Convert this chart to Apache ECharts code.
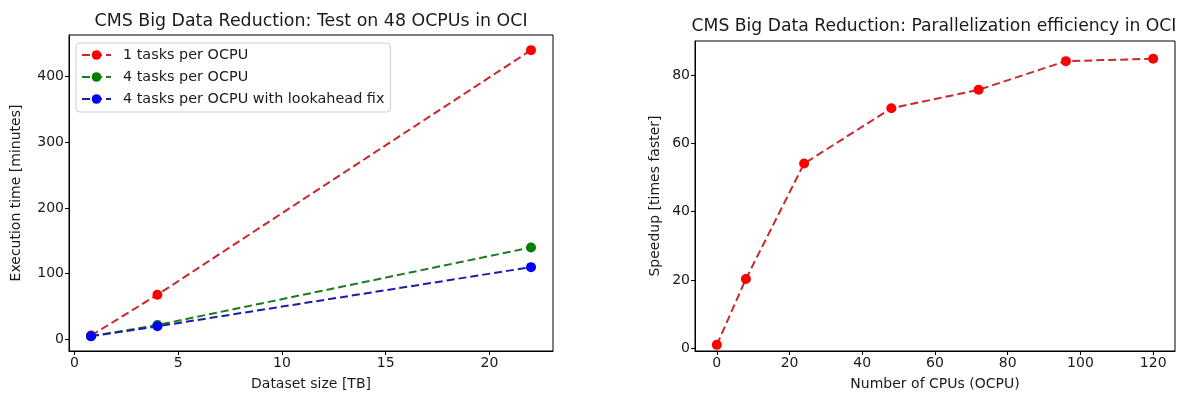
<!DOCTYPE html>
<html>
<head>
<meta charset="utf-8">
<script src="https://cdn.jsdelivr.net/npm/echarts@6/dist/echarts.min.js"></script>
<style>
html,body{margin:0;padding:0;background:#fff;}
#c{width:1182px;height:396px;}
</style>
</head>
<body>
<div id="c"></div>
<script>
// ---- data ----
const sizeTB = [0.8, 4, 22];
const oneTaskPerOCPU = [6, 68, 440];
const fourTasksPerOCPU = [5, 22, 140];
const fourTasksLookahead = [5, 20, 110];
const seriesNames = ['1 tasks per OCPU', '4 tasks per OCPU', '4 tasks per OCPU with lookahead fix'];

const cpus = [0, 8, 24, 48, 72, 96, 120];
const speedup = [1, 20.3, 54.1, 70.3, 75.7, 84.1, 84.8];

const leftXTicks = [0, 5, 10, 15, 20];
const leftYTicks = [0, 100, 200, 300, 400];
const rightXTicks = [0, 20, 40, 60, 80, 100, 120];
const rightYTicks = [0, 20, 40, 60, 80];

const titleLeft = 'CMS Big Data Reduction: Test on 48 OCPUs in OCI';
const titleRight = 'CMS Big Data Reduction: Parallelization efficiency in OCI';

// ---- chart ----
const FONT = 'DejaVu Sans';
const TXT = '#1a1a1a';
const pairs = (xs, ys) => xs.map((x, i) => [x, ys[i]]);

function valueAxis(gridIndex, min, max, ticks, name, nameGap) {
  return {
    type: 'value', gridIndex, min, max,
    name, nameLocation: 'middle', nameGap,
    nameTextStyle: { fontFamily: FONT, fontSize: 14, color: TXT },
    axisLine: { show: true, onZero: false, lineStyle: { color: '#000', width: 1 } },
    axisTick: { show: true, inside: false, length: 4, lineStyle: { color: '#000', width: 1 }, customValues: ticks },
    axisLabel: { show: true, margin: 5, fontFamily: FONT, fontSize: 14, color: TXT, customValues: ticks },
    splitLine: { show: false }
  };
}

const dash = [8, 4];
function lineSeries(name, data, markerColor, lineColor, xi, yi) {
  return {
    type: 'line', name, data, xAxisIndex: xi, yAxisIndex: yi,
    symbol: 'circle', symbolSize: 10, showSymbol: true,
    itemStyle: { color: markerColor, borderWidth: 0 },
    lineStyle: { color: lineColor, width: 2, type: dash },
    emphasis: { disabled: true }, silent: true
  };
}

const chart = echarts.init(document.getElementById('c'), null, { renderer: 'canvas' });
chart.setOption({
  animation: false,
  backgroundColor: '#fff',
  textStyle: { fontFamily: FONT },
  grid: [
    { left: 69, top: 35, width: 484, height: 317, show: true, borderColor: '#000', borderWidth: 1, backgroundColor: 'transparent', containLabel: false },
    { left: 695, top: 41, width: 480, height: 311, show: true, borderColor: '#000', borderWidth: 1, backgroundColor: 'transparent', containLabel: false }
  ],
  xAxis: [
    valueAxis(0, -0.26, 23.06, leftXTicks, 'Dataset size [TB]', 26),
    valueAxis(1, -6, 126, rightXTicks, 'Number of CPUs (OCPU)', 26)
  ],
  yAxis: [
    valueAxis(0, -17.5, 463, leftYTicks, 'Execution time [minutes]', 46),
    valueAxis(1, -0.8, 90, rightYTicks, 'Speedup [times faster]', 33)
  ],
  legend: {
    show: true, orient: 'vertical', left: 76, top: 43,
    data: seriesNames,
    backgroundColor: '#fff', borderColor: '#cccccc', borderWidth: 1, borderRadius: 4,
    padding: [5, 6, 6, 5],
    itemWidth: 29, itemHeight: 12, itemGap: 8,
    textStyle: { fontFamily: FONT, fontSize: 14.4, color: TXT, padding: [0, 0, 0, 7] },
    selectedMode: false
  },
  graphic: [
    { type: 'text', x: 311, y: 21, style: { text: titleLeft, x: 0, y: 0, align: 'center', verticalAlign: 'middle', font: '17.4px "DejaVu Sans"', fill: TXT } },
    { type: 'text', x: 934, y: 27, style: { text: titleRight, x: 0, y: 0, align: 'center', verticalAlign: 'middle', font: '17.2px "DejaVu Sans"', fill: TXT } }
  ],
  series: [
    lineSeries(seriesNames[0], pairs(sizeTB, oneTaskPerOCPU), '#ff0000', '#c8282d', 0, 0),
    lineSeries(seriesNames[1], pairs(sizeTB, fourTasksPerOCPU), '#008000', '#1d7a1d', 0, 0),
    lineSeries(seriesNames[2], pairs(sizeTB, fourTasksLookahead), '#0000ff', '#1c1ca8', 0, 0),
    lineSeries('Speedup', pairs(cpus, speedup), '#ff0000', '#c8282d', 1, 1)
  ]
});
</script>
</body>
</html>
